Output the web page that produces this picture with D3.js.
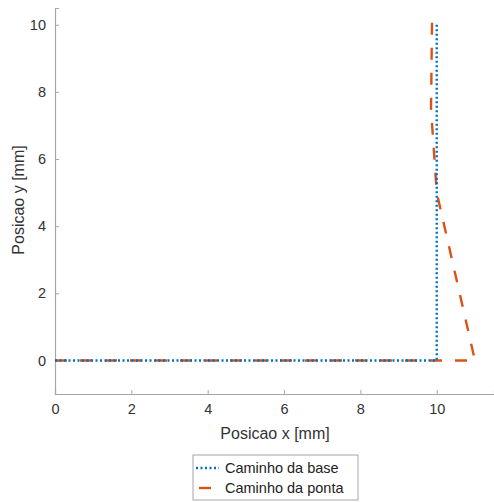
<!DOCTYPE html>
<html>
<head>
<meta charset="utf-8">
<script src="https://cdn.jsdelivr.net/npm/d3@7"></script>
<style>
  body { margin: 0; background: #fff; }
  text { font-family: "Liberation Sans", Arial, sans-serif; }
</style>
</head>
<body>
<svg id="chart" width="494" height="502"></svg>
<script>
// Path data
const baseX = [0, 10, 10];
const baseY = [0, 0, 10];
const tipX = [0, 11, 10.5, 10, 9.85, 9.88];
const tipY = [0, 0, 2.5, 5, 7.5, 10.4];
const xTicks = [0, 2, 4, 6, 8, 10];
const yTicks = [0, 2, 4, 6, 8, 10];
const seriesNames = ['Caminho da base', 'Caminho da ponta'];
const seriesColors = ['#0072BD', '#D95319'];

const svg = d3.select('#chart');
const margin = { left: 55, top: 8, right: 0, bottom: 108 };
const width = 494 - margin.left - margin.right;
const height = 502 - margin.top - margin.bottom;

const g = svg.append('g').attr('transform', `translate(${margin.left},${margin.top})`);

const x = d3.scaleLinear().domain([0, 11.5]).range([0, width]);
const y = d3.scaleLinear().domain([-1, 10.5]).range([height, 0]);

// Axes (inward ticks, matlab-ish)
const axisColor = '#a6a6a6';
const xAxis = g.append('g')
    .attr('transform', `translate(0,${height})`)
    .call(d3.axisBottom(x).tickValues(xTicks).tickSize(-4).tickPadding(10).tickFormat(d3.format('d')));
const yAxis = g.append('g')
    .call(d3.axisLeft(y).tickValues(yTicks).tickSize(-4).tickPadding(9).tickFormat(d3.format('d')));

[xAxis, yAxis].forEach(a => {
    a.select('.domain').attr('stroke', axisColor).attr('stroke-width', 1.2);
    a.selectAll('.tick line').attr('stroke', axisColor);
    a.selectAll('.tick text').attr('fill', '#333').style('font-size', '14.5px');
});

// Axis labels
g.append('text')
    .attr('x', 275 - margin.left)
    .attr('y', height + 45)
    .attr('text-anchor', 'middle')
    .style('font-size', '16px')
    .style('fill', '#333')
    .text('Posicao x [mm]');

g.append('text')
    .attr('transform', 'rotate(-90)')
    .attr('x', -(200 - margin.top))
    .attr('y', 24 - margin.left)
    .attr('text-anchor', 'middle')
    .style('font-size', '16px')
    .style('fill', '#333')
    .text('Posicao y [mm]');

// Lines
const line = d3.line().x(d => x(d[0])).y(d => y(d[1]));
const basePts = baseX.map((v, i) => [v, baseY[i]]);
const tipPts = tipX.map((v, i) => [v, tipY[i]]);

g.append('path')
    .datum(tipPts)
    .attr('d', line)
    .attr('fill', 'none')
    .attr('stroke', seriesColors[1])
    .attr('stroke-width', 2.4)
    .attr('stroke-dasharray', '12,13');

g.append('path')
    .datum(basePts)
    .attr('d', line)
    .attr('fill', 'none')
    .attr('stroke', seriesColors[0])
    .attr('stroke-width', 2.4)
    .attr('stroke-dasharray', '2,2.5');

// Legend
const legend = svg.append('g').attr('transform', 'translate(193,455)');
legend.append('rect')
    .attr('width', 165)
    .attr('height', 45)
    .attr('fill', '#fff')
    .attr('stroke', '#a6a6a6');

const dashes = ['2,2.5', '12,13'];
seriesNames.forEach((name, i) => {
    const yy = 13 + i * 20;
    legend.append('line')
        .attr('x1', 3).attr('x2', i === 1 ? 20 : 26)
        .attr('y1', yy).attr('y2', yy)
        .attr('stroke', seriesColors[i])
        .attr('stroke-width', 2.4)
        .attr('stroke-dasharray', dashes[i])
        .attr('stroke-dashoffset', i === 1 ? -3 : 0);
    legend.append('text')
        .attr('x', 32)
        .attr('y', yy + 5)
        .style('font-size', '14.5px')
        .style('fill', '#222')
        .text(name);
});
</script>
</body>
</html>
